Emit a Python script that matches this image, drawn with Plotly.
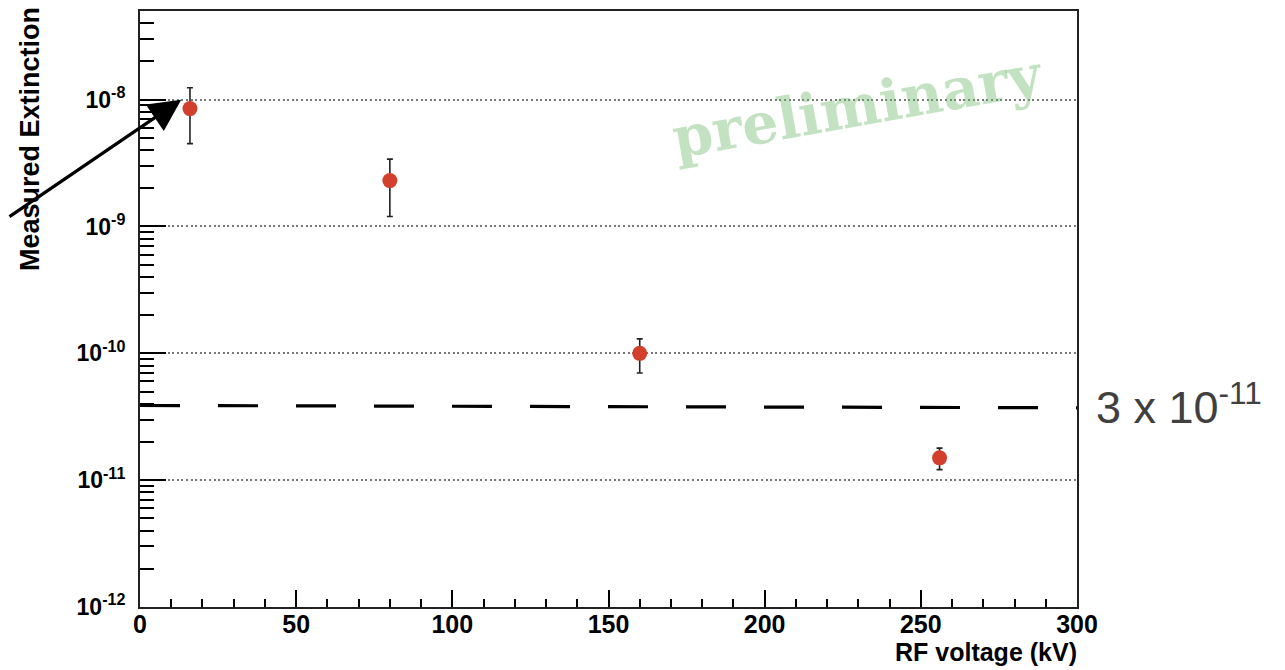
import math
import plotly.graph_objects as go

# ---- data ----
voltage_kv = [16, 80, 160, 256]
extinction = [8.5e-9, 2.3e-9, 1.0e-10, 1.5e-11]
err_plus = [3.9e-9, 1.1e-9, 3.0e-11, 2.9e-12]
err_minus = [4.0e-9, 1.1e-9, 3.0e-11, 2.9e-12]

threshold_x = [0, 300]
threshold_y = [3.88e-11, 3.72e-11]
threshold_label = "3 x 10<sup>-11</sup>"

y_tickvals = [1e-12, 1e-11, 1e-10, 1e-9, 1e-8]
y_ticktext = ["10<sup>-12</sup>", "10<sup>-11</sup>", "10<sup>-10</sup>", "10<sup>-9</sup>", "10<sup>-8</sup>"]
y_minor = [m * 10.0 ** e for e in range(-12, -7) for m in range(2, 10)]
x_tickvals = [0, 50, 100, 150, 200, 250, 300]

fig = go.Figure()

fig.add_trace(go.Scatter(
    x=threshold_x, y=threshold_y, mode="lines",
    line=dict(color="black", width=3.2, dash="40px,38px"),
    hoverinfo="skip", showlegend=False,
))

fig.add_trace(go.Scatter(
    x=voltage_kv, y=extinction, mode="markers",
    marker=dict(color="#d23f2c", size=15, line=dict(width=0)),
    error_y=dict(type="data", symmetric=False, array=err_plus, arrayminus=err_minus,
                 color="#222222", thickness=1.6, width=3),
    showlegend=False,
))

tickfont_x = dict(family="Liberation Sans", size=25, color="black", weight="bold")
tickfont_y = dict(family="Liberation Sans", size=23, color="black", weight="bold")

fig.update_layout(
    width=1285, height=670,
    margin=dict(l=132, r=216, t=1, b=71),
    paper_bgcolor="white", plot_bgcolor="white",
    xaxis=dict(
        range=[0, 300], tickmode="array", tickvals=x_tickvals,
        ticks="inside", ticklen=17, tickwidth=1.5, tickcolor="black",
        minor=dict(ticks="inside", ticklen=8, tickwidth=1.5, tickcolor="black", dtick=10, showgrid=False),
        showline=True, linecolor="#222222", linewidth=2, mirror=True,
        showgrid=False, zeroline=False, tickfont=tickfont_x, ticklabelstandoff=-6,
    ),
    yaxis=dict(
        type="log", range=[-12, math.log10(5e-8)],
        tickmode="array", tickvals=y_tickvals, ticktext=y_ticktext,
        ticks="inside", ticklen=26, tickwidth=1.5, tickcolor="black",
        minor=dict(ticks="inside", ticklen=14, tickwidth=1.5, tickcolor="black",
                   tickmode="array", tickvals=y_minor, showgrid=False),
        showline=True, linecolor="#222222", linewidth=2, mirror=True,
        showgrid=True, gridcolor="#777777", gridwidth=1.5, griddash="2px,2.6px",
        zeroline=False, tickfont=tickfont_y, ticklabelstandoff=8,
    ),
    annotations=[
        dict(text="Measured Extinction", textangle=-90, xref="paper", yref="paper",
             x=0, y=1, xanchor="center", yanchor="top", xshift=-110, yshift=6,
             showarrow=False, font=dict(family="Liberation Sans", size=27, color="black", weight="bold")),
        dict(text="RF voltage (kV)", xref="paper", yref="paper", x=1, y=0,
             xanchor="right", yanchor="top", xshift=2, yshift=-29, showarrow=False,
             font=dict(family="Liberation Sans", size=25, color="black", weight="bold")),
        dict(text="preliminary", xref="paper", yref="paper", x=0.766, y=0.842,
             xanchor="center", yanchor="middle", textangle=-10, showarrow=False,
             font=dict(family="DejaVu Serif", size=57, color="rgba(110,185,110,0.42)", weight="bold")),
        dict(text=threshold_label, xref="paper", yref="y", x=1, y=math.log10(threshold_y[-1]),
             xanchor="left", yanchor="middle", xshift=17, yshift=4, showarrow=False,
             font=dict(family="Liberation Sans", size=45, color="#404040")),
        dict(text="", xref="x", yref="y", x=13.2, y=-8, ax=-182, ay=118,
             showarrow=True, arrowhead=2, arrowsize=2.0, arrowwidth=3.2, arrowcolor="black",
             standoff=0),
    ],
)

fig.write_html("out.html")
